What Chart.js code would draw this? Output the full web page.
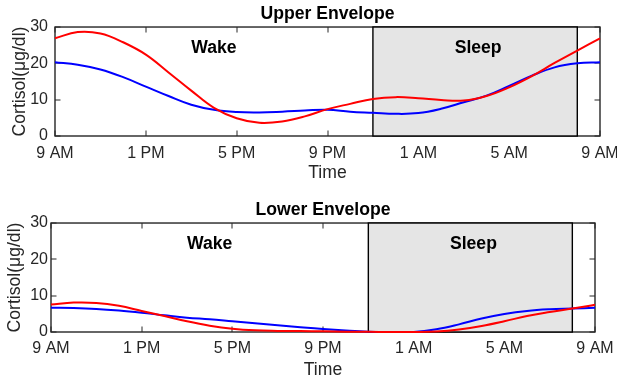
<!DOCTYPE html>
<html><head><meta charset="utf-8">
<script src="https://cdn.jsdelivr.net/npm/chart.js@4"></script>
<style>
html,body{margin:0;padding:0;background:#fff;overflow:hidden}
#wrap{position:relative;width:617px;height:379px}
canvas{position:absolute;left:0}
#c1{top:0}
#c2{top:190px}
</style></head><body>
<div id="wrap"><canvas id="c1" width="617" height="190"></canvas><canvas id="c2" width="617" height="189"></canvas></div>
<script>
// ---- data ----
const hours = [0,1,2,3,4,5,6,7,8,9,10,11,12,13,14,15,16,17,18,19,20,21,22,23,24];
const upperRed  = [26.9,28.6,28.2,25.8,22.4,17.5,12.5,7.75,4.9,3.65,4.0,5.4,7.4,8.85,10.2,10.7,10.4,9.9,9.75,11.0,13.4,16.5,20.1,23.5,26.9];
const upperBlue = [20.3,19.6,18.3,16.2,13.6,11.0,8.6,7.2,6.6,6.5,6.7,7.0,7.25,6.7,6.4,6.1,6.3,7.5,9.3,11.1,13.8,16.6,18.9,20.0,20.3];
const lowerRed  = [7.55,8.1,8.0,7.2,5.8,4.4,2.95,1.75,0.9,0.45,0.3,0.25,0.2,0.1,0.05,0,0,0.15,0.7,1.65,2.95,4.4,5.5,6.45,7.5];
const lowerBlue = [6.7,6.6,6.35,5.9,5.3,4.6,3.95,3.5,2.95,2.4,1.85,1.3,0.8,0.4,0.1,0.02,0,0.75,2.1,3.7,4.95,5.8,6.25,6.45,6.65];
const xTickHours  = [0,4,8,12,16,20,24];
const xTickLabels = ['9 AM','1 PM','5 PM','9 PM','1 AM','5 AM','9 AM'];
const yTicks = [0,10,20,30];
const sleepStart = 14, sleepEnd = 23;           // 11 PM .. 8 AM
const regionLabels = ['Wake','Sleep'];
const regionLabelX = [6, 17.6];
const regionLabelY = 24.2;

const FONT = 'Liberation Sans, Arial, Helvetica, sans-serif';
Chart.defaults.font.family = FONT;

function pts(vals){ return hours.map((h,i)=>({x:h,y:vals[i]})); }

const frame = {
  id:'frame',
  beforeDatasetsDraw(chart){
    const {ctx, chartArea:a, scales:{x,y}} = chart;
    ctx.save();
    ctx.strokeStyle = '#262626';
    ctx.lineWidth = 1;
    const tl = 5.5;
    ctx.beginPath();
    xTickHours.forEach(h=>{
      const px = Math.round(x.getPixelForValue(h));
      ctx.moveTo(px, a.bottom); ctx.lineTo(px, a.bottom - tl);
      ctx.moveTo(px, a.top); ctx.lineTo(px, a.top + tl);
    });
    yTicks.forEach(v=>{
      const py = Math.round(y.getPixelForValue(v));
      ctx.moveTo(a.left, py); ctx.lineTo(a.left + tl, py);
      ctx.moveTo(a.right, py); ctx.lineTo(a.right - tl, py);
    });
    ctx.stroke();
    ctx.lineWidth = 1.4;
    ctx.strokeRect(a.left, a.top, a.right - a.left, a.bottom - a.top);
    const x0 = x.getPixelForValue(sleepStart), x1 = x.getPixelForValue(sleepEnd);
    ctx.fillStyle = '#e5e5e5';
    ctx.fillRect(x0, a.top, x1 - x0, a.bottom - a.top);
    ctx.strokeStyle = '#000';
    ctx.lineWidth = 1.4;
    ctx.strokeRect(x0, a.top, x1 - x0, a.bottom - a.top);
    ctx.restore();
  },
  afterDatasetsDraw(chart){
    const {ctx, scales:{x,y}} = chart;
    ctx.save();
    ctx.fillStyle = '#000';
    ctx.font = 'bold 17.6px ' + FONT;
    ctx.textAlign = 'left';
    ctx.textBaseline = 'middle';
    regionLabels.forEach((t,i)=>{
      ctx.fillText(t, x.getPixelForValue(regionLabelX[i]), y.getPixelForValue(regionLabelY));
    });
    ctx.restore();
  }
};

function makeChart(id, title, red, blue, g){
  return new Chart(document.getElementById(id), {
    type:'line',
    data:{datasets:[
      {data:pts(red), borderColor:'#ff0000', borderWidth:2, pointRadius:0, tension:0.4, clip:4, fill:false},
      {data:pts(blue), borderColor:'#0000ff', borderWidth:2, pointRadius:0, tension:0.4, clip:4, fill:false}
    ]},
    options:{
      responsive:false, animation:false, devicePixelRatio:1,
      layout:{padding:{left:0, right:g.padRight, top:0, bottom:0}},
      plugins:{
        legend:{display:false}, tooltip:{enabled:false},
        title:{display:true, text:title, fullSize:false, color:'#000',
               font:{size:17.6, weight:'bold', lineHeight:1.2},
               padding:{top:g.titleTop, bottom:g.titleBottom}}
      },
      scales:{
        x:{type:'linear', min:0, max:24,
           grid:{display:false, drawTicks:false}, border:{display:false},
           ticks:{stepSize:4, autoSkip:false, maxRotation:0, color:'#262626', font:{size:16}, padding:g.xTickPad,
                  callback:(v)=>{const k=xTickHours.indexOf(v); return k<0?'':xTickLabels[k];}},
           title:{display:true, text:'Time', color:'#262626', font:{size:17.6, lineHeight:1}, padding:{top:0,bottom:g.xTitlePad}},
           afterFit:(s)=>{s.height = g.xHeight; s.paddingLeft = 0; s.paddingRight = 0;}
        },
        y:{min:0, max:30,
           grid:{display:false, drawTicks:false}, border:{display:false},
           ticks:{stepSize:10, color:'#262626', font:{size:16}, padding:g.yTickPad},
           title:{display:true, text:'Cortisol(μg/dl)', color:'#262626', font:{size:17.6, lineHeight:1}, padding:{top:g.yTitlePad,bottom:0}},
           afterFit:(s)=>{s.width = g.yWidth; s.paddingTop = 0; s.paddingBottom = 0;}
        }
      }
    },
    plugins:[frame]
  });
}

makeChart('c1','Upper Envelope', upperRed, upperBlue,
  {padRight:17, titleTop:3.5, titleBottom:2.4, xHeight:54, xTickPad:8, xTitlePad:7.7, yWidth:55, yTickPad:7, yTitlePad:11.2});
makeChart('c2','Lower Envelope', lowerRed, lowerBlue,
  {padRight:22, titleTop:9.4, titleBottom:2.5, xHeight:47, xTickPad:7, xTitlePad:0.2, yWidth:51, yTickPad:3, yTitlePad:6.7});
</script>
</body></html>
